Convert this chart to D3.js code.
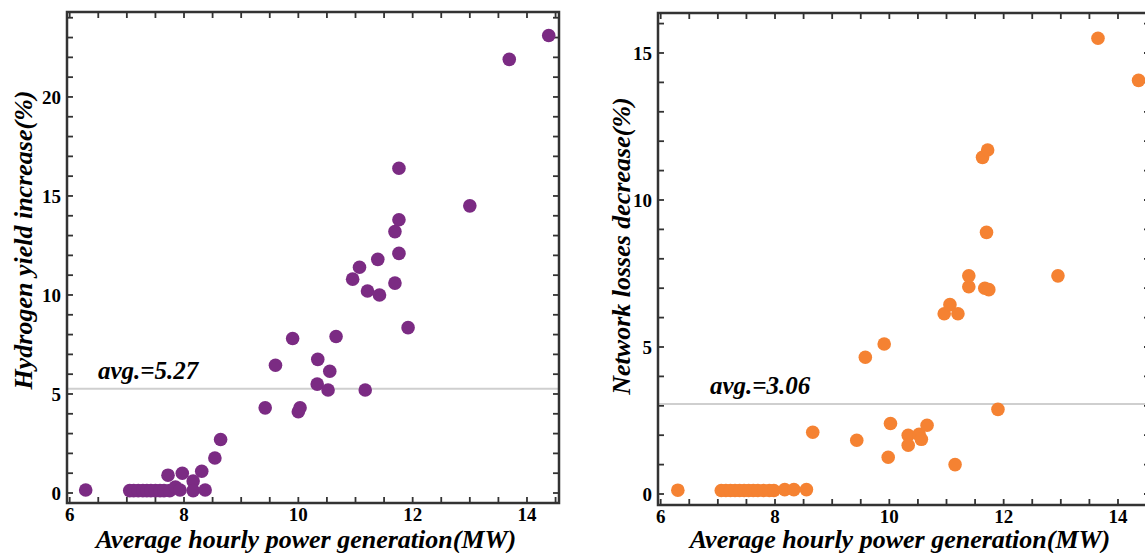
<!DOCTYPE html>
<html lang="en">
<head>
<meta charset="UTF-8">
<title>hydrogen vs losses</title>
<style>
  body { margin: 0; background: #fff; }
  text { font-family: "Liberation Serif", "Times New Roman", serif; }
</style>
</head>
<body>
<script src="https://cdn.jsdelivr.net/npm/d3@7/dist/d3.min.js"></script>
<script>
// left panel: power (MW) vs hydrogen yield increase (%)
const powerH = [6.28, 7.05, 7.12, 7.2, 7.28, 7.35, 7.42, 7.5, 7.58, 7.65, 7.75,
  7.72, 7.97, 7.85, 7.93, 8.16, 8.16, 8.31, 8.37, 8.54, 8.64, 9.42, 9.6, 9.9,
  10.0, 10.03, 10.34, 10.33, 10.55, 10.52, 10.66, 11.17, 10.95, 11.07, 11.21,
  11.42, 11.39, 11.69, 11.69, 11.76, 11.76, 11.76, 11.92, 13.0, 13.69, 14.38];
const hydrogen = [0.15, 0.12, 0.12, 0.12, 0.12, 0.12, 0.12, 0.12, 0.12, 0.12, 0.12,
  0.9, 1.0, 0.3, 0.15, 0.6, 0.12, 1.1, 0.15, 1.77, 2.7, 4.3, 6.45, 7.8,
  4.1, 4.3, 6.75, 5.5, 6.15, 5.2, 7.9, 5.2, 10.8, 11.4, 10.2,
  10.0, 11.8, 10.6, 13.2, 13.8, 12.1, 16.4, 8.35, 14.5, 21.9, 23.1];

// right panel: power (MW) vs network losses decrease (%)
const powerL = [6.3, 7.06, 7.14, 7.22, 7.3, 7.38, 7.46, 7.54, 7.62, 7.7, 7.8, 7.9, 7.98,
  8.17, 8.33, 8.55, 8.66, 9.43, 9.58, 9.91, 9.98, 10.02, 10.33, 10.33, 10.52,
  10.56, 10.66, 11.15, 10.96, 11.06, 11.2, 11.39, 11.39, 11.67, 11.74, 11.7,
  11.63, 11.72, 11.9, 12.95, 13.65, 14.36];
const losses = [0.13, 0.12, 0.12, 0.12, 0.12, 0.12, 0.12, 0.12, 0.12, 0.12, 0.12, 0.12, 0.12,
  0.15, 0.15, 0.15, 2.1, 1.83, 4.65, 5.1, 1.25, 2.4, 2.0, 1.66, 2.03,
  1.86, 2.34, 1.0, 6.13, 6.44, 6.13, 7.05, 7.42, 7.0, 6.95, 8.9,
  11.45, 11.7, 2.88, 7.42, 15.5, 14.07];

const xTicks = [6, 8, 10, 12, 14];
const yTicksH = [0, 5, 10, 15, 20];
const yTicksL = [0, 5, 10, 15];
const avgH = 5.27, avgL = 3.06;

const W = 1145, H = 553;
const svg = d3.select('body').append('svg')
  .attr('width', W).attr('height', H);

function panel(o) {
  const x = d3.scaleLinear().domain([5.953, 14.56]).range([o.left, o.left + 492]);
  const y = d3.scaleLinear().domain(o.ydom).range([o.bottom, o.top]);
  const g = svg.append('g');
  const x0 = o.left, x1 = o.left + 492;

  // minor/major ticks pointing inward on all four sides
  const xt = d3.range(6, 14.51, 0.5);
  const yt = d3.range(0, Math.floor(o.ydom[1]) + 1, 1);
  const tk = g.append('g').attr('stroke', '#333').attr('stroke-width', 1.8);
  xt.forEach(v => {
    tk.append('line').attr('x1', x(v)).attr('x2', x(v)).attr('y1', o.bottom).attr('y2', o.bottom - 6);
    tk.append('line').attr('x1', x(v)).attr('x2', x(v)).attr('y1', o.top).attr('y2', o.top + 6);
  });
  yt.forEach(v => {
    tk.append('line').attr('x1', x0).attr('x2', x0 + 6).attr('y1', y(v)).attr('y2', y(v));
    tk.append('line').attr('x1', x1).attr('x2', x1 - 6).attr('y1', y(v)).attr('y2', y(v));
  });

  // average line
  g.append('line')
    .attr('x1', x0).attr('x2', x1)
    .attr('y1', y(o.avg)).attr('y2', y(o.avg))
    .attr('stroke', '#cfcfcf').attr('stroke-width', 2);
  g.append('text')
    .attr('x', o.avgX).attr('y', y(o.avg) - 10)
    .attr('font-size', 25).attr('font-weight', 'bold').attr('font-style', 'italic')
    .text('avg.=' + o.avg.toFixed(2));

  // points
  g.selectAll('circle.pt')
    .data(o.xs.map((v, i) => [v, o.ys[i]]))
    .enter().append('circle')
    .attr('class', 'pt')
    .attr('cx', d => x(d[0]))
    .attr('cy', d => y(d[1]))
    .attr('r', 6.8)
    .attr('fill', o.color);

  // frame
  g.append('rect')
    .attr('x', x0).attr('y', o.top)
    .attr('width', x1 - x0).attr('height', o.bottom - o.top)
    .attr('fill', 'none').attr('stroke', '#333').attr('stroke-width', 2.5);

  // tick labels
  g.selectAll('text.xl').data(xTicks).enter().append('text')
    .attr('class', 'xl')
    .attr('x', d => x(d)).attr('y', o.bottom + 18)
    .attr('text-anchor', 'middle').attr('font-size', 19).attr('font-weight', 'bold')
    .text(d => d);
  g.selectAll('text.yl').data(o.yticks).enter().append('text')
    .attr('class', 'yl')
    .attr('x', x0 - 6).attr('y', d => y(d)).attr('dy', '0.35em')
    .attr('text-anchor', 'end').attr('font-size', 19).attr('font-weight', 'bold')
    .text(d => d);

  // axis titles
  g.append('text')
    .attr('x', (x0 + x1) / 2 + o.titleDx).attr('y', 548)
    .attr('text-anchor', 'middle').attr('font-size', 26)
    .attr('font-weight', 'bold').attr('font-style', 'italic')
    .text('Average hourly power generation(MW)');
  g.append('text')
    .attr('transform', `translate(${o.ylabX},${o.ylabY}) rotate(-90)`)
    .attr('text-anchor', 'middle').attr('font-size', 26)
    .attr('font-weight', 'bold').attr('font-style', 'italic')
    .text(o.ylabel);
}

panel({
  left: 67, top: 12, bottom: 503, ydom: [-0.505, 24.29],
  xs: powerH, ys: hydrogen, color: '#7b2b83',
  avg: avgH, avgX: 98, yticks: yTicksH, titleDx: -7,
  ylabel: 'Hydrogen yield increase(%)', ylabX: 32, ylabY: 240
});

panel({
  left: 658, top: 13, bottom: 505, ydom: [-0.374, 16.36],
  xs: powerL, ys: losses, color: '#f58232',
  avg: avgL, avgX: 710, yticks: yTicksL, titleDx: -4,
  ylabel: 'Network losses decrease(%)', ylabX: 630, ylabY: 246
});
</script>
</body>
</html>
